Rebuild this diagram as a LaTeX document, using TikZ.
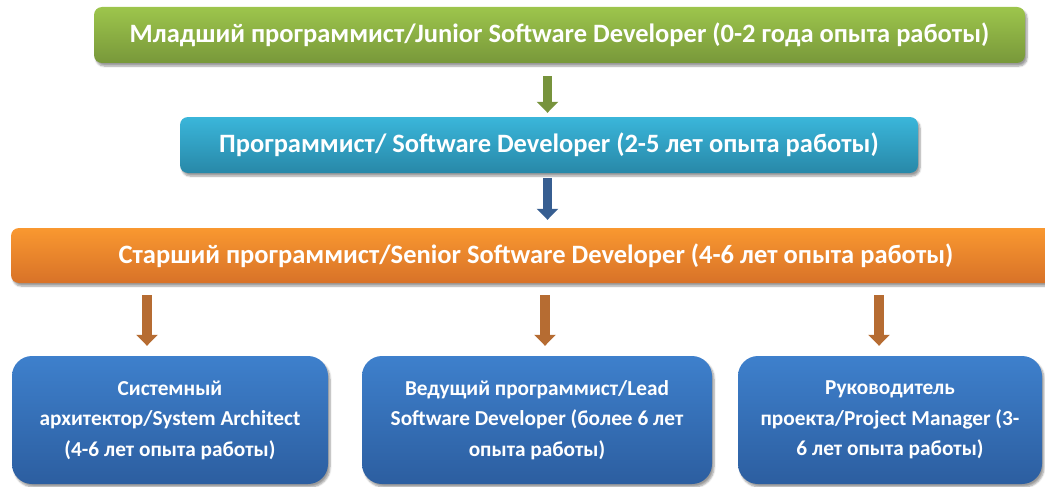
\documentclass[tikz,border=0pt]{standalone}
\usepackage{fontspec}
\setmainfont{Carlito}
\usetikzlibrary{shadows,shadows.blur,arrows.meta,calc}
\definecolor{gTop}{RGB}{157,197,76}
\definecolor{gBot}{RGB}{120,152,58}
\definecolor{cTop}{RGB}{58,182,218}
\definecolor{cBot}{RGB}{40,136,168}
\definecolor{oTop}{RGB}{249,152,48}
\definecolor{oBot}{RGB}{216,114,40}
\definecolor{bTop}{RGB}{62,128,204}
\definecolor{bBot}{RGB}{44,94,160}
\definecolor{arG}{RGB}{119,147,60}
\definecolor{arB}{RGB}{55,94,145}
\definecolor{arO}{RGB}{182,108,50}
\tikzset{
  lvl/.style={rounded corners=8pt, inner sep=0pt, text=white,
    font=\fontsize{26.5}{30}\selectfont\bfseries,
    blur shadow={shadow xshift=2pt, shadow yshift=-3pt, shadow opacity=40, shadow blur steps=6}},
  role/.style={rounded corners=20pt, inner sep=0pt, text=white, align=center,
    top color=bTop, bottom color=bBot,
    font=\fontsize{21.3}{30.5}\selectfont\bfseries,
    blur shadow={shadow xshift=2pt, shadow yshift=-3pt, shadow opacity=40, shadow blur steps=6}},
  arr/.style={line width=9.5pt, -{Triangle[width=21pt,length=11pt]}}
}
\begin{document}
\begin{tikzpicture}[x=1pt,y=-1pt]
\useasboundingbox (0,0) rectangle (1045,487);
\node[lvl, top color=gTop, bottom color=gBot, minimum width=931pt, minimum height=56pt]
  (junior) at (559.5,35) {Младший программист/Junior Software Developer (0-2 года опыта работы)};
\node[lvl, top color=cTop, bottom color=cBot, minimum width=738pt, minimum height=56pt]
  (dev) at (549,145) {Программист/ Software Developer (2-5 лет опыта работы)};
\node[lvl, top color=oTop, bottom color=oBot, minimum width=1050pt, minimum height=55pt]
  (senior) at (536,255.5) {Старший программист/Senior Software Developer (4-6 лет опыта работы)};
\node[role, minimum width=316pt, minimum height=128pt] (arch) at (170,420)
  {Системный\\архитектор/System Architect\\(4-6 лет опыта работы)};
\node[role, minimum width=350pt, minimum height=128pt] (lead) at (537,420)
  {Ведущий программист/Lead\\Software Developer (более 6 лет\\опыта работы)};
\node[role, minimum width=304pt, minimum height=128pt] (pm) at (890,420)
  {Руководитель\\проекта/Project Manager (3-\\6 лет опыта работы)};
\draw[arr, arG] ($(junior.south -| 547.5,0)+(0,13)$) -- ($(dev.north -| 547.5,0)+(0,-4)$);
\draw[arr, arB] ($(dev.south -| 547.5,0)+(0,5)$) -- ($(senior.north -| 547.5,0)+(0,-8)$);
\draw[arr, arO] ($(senior.south -| 147,0)+(0,12)$) -- ($(arch.north -| 147,0)+(0,-10)$);
\draw[arr, arO] ($(senior.south -| 545,0)+(0,12)$) -- ($(lead.north -| 545,0)+(0,-10)$);
\draw[arr, arO] ($(senior.south -| 879,0)+(0,12)$) -- ($(pm.north -| 879,0)+(0,-10)$);
\end{tikzpicture}
\end{document}
